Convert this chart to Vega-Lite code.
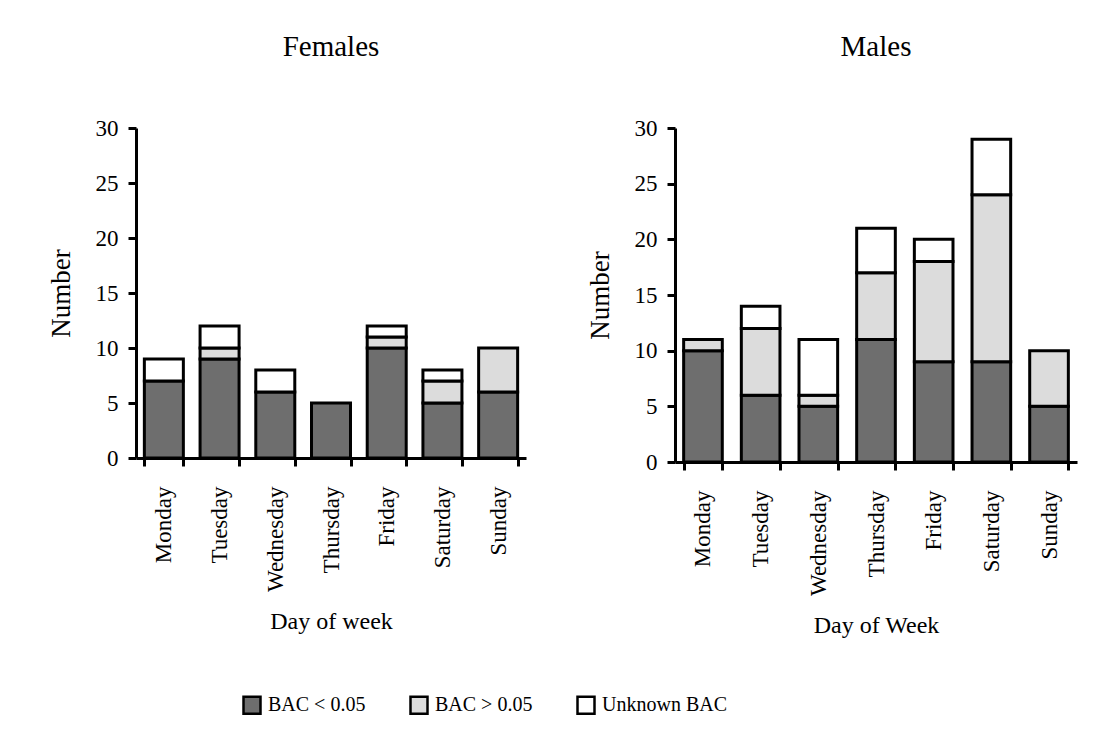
{
  "$schema": "https://vega.github.io/schema/vega-lite/v6.json",
  "background": "white",
  "padding": {"left": 47, "top": 33, "right": 10, "bottom": 5},
  "datasets": {
    "females": [
      {"day": "Monday", "bac": "BAC < 0.05", "count": 7},
      {"day": "Monday", "bac": "Unknown BAC", "count": 2},
      {"day": "Tuesday", "bac": "BAC < 0.05", "count": 9},
      {"day": "Tuesday", "bac": "BAC > 0.05", "count": 1},
      {"day": "Tuesday", "bac": "Unknown BAC", "count": 2},
      {"day": "Wednesday", "bac": "BAC < 0.05", "count": 6},
      {"day": "Wednesday", "bac": "Unknown BAC", "count": 2},
      {"day": "Thursday", "bac": "BAC < 0.05", "count": 5},
      {"day": "Friday", "bac": "BAC < 0.05", "count": 10},
      {"day": "Friday", "bac": "BAC > 0.05", "count": 1},
      {"day": "Friday", "bac": "Unknown BAC", "count": 1},
      {"day": "Saturday", "bac": "BAC < 0.05", "count": 5},
      {"day": "Saturday", "bac": "BAC > 0.05", "count": 2},
      {"day": "Saturday", "bac": "Unknown BAC", "count": 1},
      {"day": "Sunday", "bac": "BAC < 0.05", "count": 6},
      {"day": "Sunday", "bac": "BAC > 0.05", "count": 4}
    ],
    "males": [
      {"day": "Monday", "bac": "BAC < 0.05", "count": 10},
      {"day": "Monday", "bac": "BAC > 0.05", "count": 1},
      {"day": "Tuesday", "bac": "BAC < 0.05", "count": 6},
      {"day": "Tuesday", "bac": "BAC > 0.05", "count": 6},
      {"day": "Tuesday", "bac": "Unknown BAC", "count": 2},
      {"day": "Wednesday", "bac": "BAC < 0.05", "count": 5},
      {"day": "Wednesday", "bac": "BAC > 0.05", "count": 1},
      {"day": "Wednesday", "bac": "Unknown BAC", "count": 5},
      {"day": "Thursday", "bac": "BAC < 0.05", "count": 11},
      {"day": "Thursday", "bac": "BAC > 0.05", "count": 6},
      {"day": "Thursday", "bac": "Unknown BAC", "count": 4},
      {"day": "Friday", "bac": "BAC < 0.05", "count": 9},
      {"day": "Friday", "bac": "BAC > 0.05", "count": 9},
      {"day": "Friday", "bac": "Unknown BAC", "count": 2},
      {"day": "Saturday", "bac": "BAC < 0.05", "count": 9},
      {"day": "Saturday", "bac": "BAC > 0.05", "count": 15},
      {"day": "Saturday", "bac": "Unknown BAC", "count": 5},
      {"day": "Sunday", "bac": "BAC < 0.05", "count": 5},
      {"day": "Sunday", "bac": "BAC > 0.05", "count": 5}
    ]
  },
  "config": {
    "font": "Liberation Serif",
    "view": {"stroke": null},
    "title": {"fontSize": 29, "fontWeight": "normal", "color": "black", "font": "Liberation Serif", "offset": 55},
    "axis": {
      "grid": false,
      "domainColor": "black", "domainWidth": 3,
      "tickColor": "black", "tickWidth": 3, "tickSize": 8,
      "labelColor": "black", "titleColor": "black",
      "labelFont": "Liberation Serif", "titleFont": "Liberation Serif",
      "titleFontWeight": "normal"
    },
    "legend": {
      "orient": "bottom",
      "direction": "horizontal", "title": null,
      "labelFontSize": 20, "labelColor": "black", "labelFont": "Liberation Serif",
      "symbolType": "square", "symbolSize": 289,
      "symbolStrokeColor": "black", "symbolStrokeWidth": 2.5,
      "columnPadding": 39, "labelOffset": 6, "offset": -49, "padding": 106,
      "layout": {"bottom": {"anchor": "start"}}
    }
  },
  "spacing": 60,
  "hconcat": [
    {
      "title": "Females",
      "width": 390,
      "height": 330,
      "data": {"name": "females"},
      "mark": {"type": "bar", "stroke": "black", "strokeWidth": 3},
      "encoding": {
        "x": {
          "field": "day", "type": "nominal",
          "sort": ["Monday", "Tuesday", "Wednesday", "Thursday", "Friday", "Saturday", "Sunday"],
          "scale": {"paddingInner": 0.3, "paddingOuter": 0.15},
          "axis": {"title": "Day of week", "tickBand": "extent", "labelAngle": -90, "labelFontSize": 23, "labelPadding": 20, "titleFontSize": 24, "titlePadding": 18}
        },
        "y": {
          "field": "count", "type": "quantitative", "stack": "zero",
          "scale": {"domain": [0, 30]},
          "axis": {"title": "Number", "values": [0, 5, 10, 15, 20, 25, 30], "labelFontSize": 23, "labelPadding": 10, "titleFontSize": 27, "titlePadding": 20}
        },
        "color": {
          "field": "bac", "type": "nominal",
          "scale": {"domain": ["BAC < 0.05", "BAC > 0.05", "Unknown BAC"], "range": ["#6e6e6e", "#dcdcdc", "#ffffff"]},
          "legend": {"title": null}
        },
        "order": {"field": "bac", "sort": "ascending"}
      }
    },
    {
      "title": "Males",
      "width": 402,
      "height": 334,
      "data": {"name": "males"},
      "mark": {"type": "bar", "stroke": "black", "strokeWidth": 3},
      "encoding": {
        "x": {
          "field": "day", "type": "nominal",
          "sort": ["Monday", "Tuesday", "Wednesday", "Thursday", "Friday", "Saturday", "Sunday"],
          "scale": {"paddingInner": 0.33, "paddingOuter": 0.15},
          "axis": {"title": "Day of Week", "tickBand": "extent", "labelAngle": -90, "labelFontSize": 23, "labelPadding": 20, "titleFontSize": 24, "titlePadding": 18}
        },
        "y": {
          "field": "count", "type": "quantitative", "stack": "zero",
          "scale": {"domain": [0, 30]},
          "axis": {"title": "Number", "values": [0, 5, 10, 15, 20, 25, 30], "labelFontSize": 23, "labelPadding": 10, "titleFontSize": 27, "titlePadding": 20}
        },
        "color": {
          "field": "bac", "type": "nominal",
          "scale": {"domain": ["BAC < 0.05", "BAC > 0.05", "Unknown BAC"], "range": ["#6e6e6e", "#dcdcdc", "#ffffff"]},
          "legend": {"title": null}
        },
        "order": {"field": "bac", "sort": "ascending"}
      }
    }
  ]
}
